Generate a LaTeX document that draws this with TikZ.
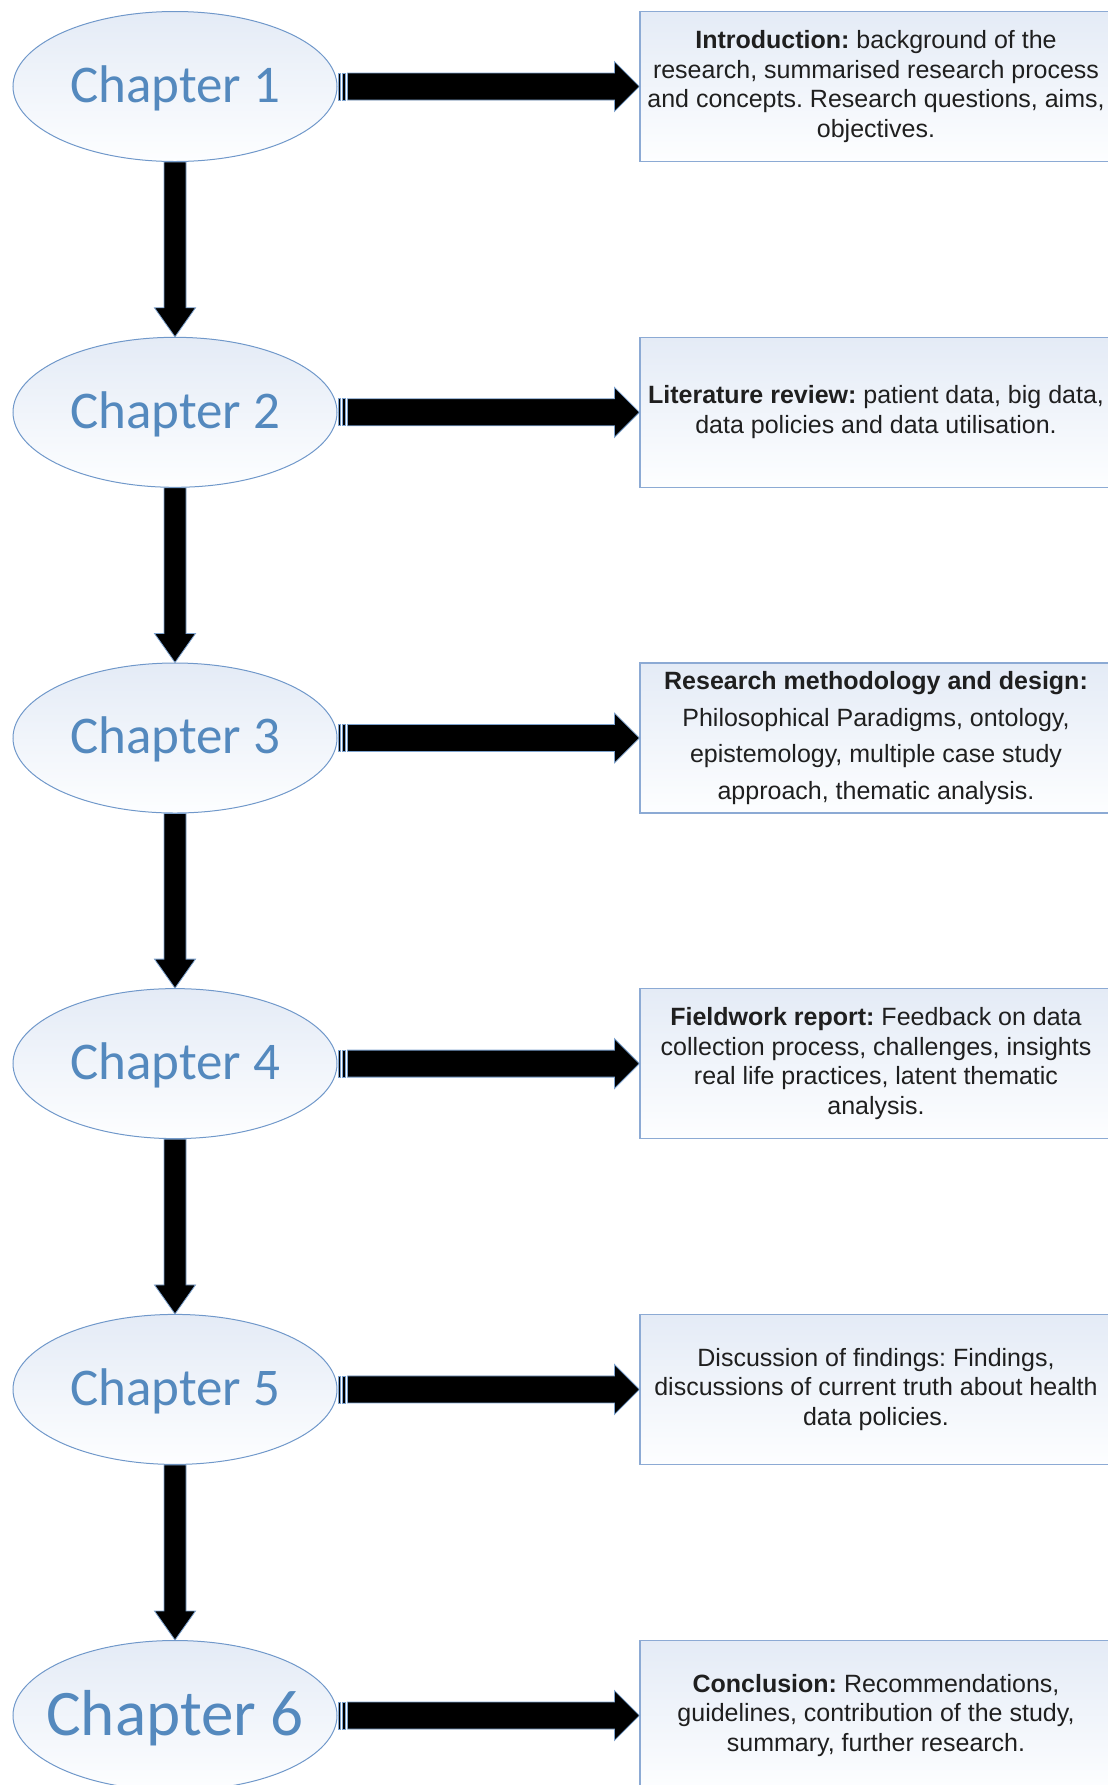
\documentclass[tikz,border=0pt]{standalone}
\usepackage{fontspec}
\setmainfont{Liberation Sans}
\newfontfamily\chapfont{Carlito}
\usetikzlibrary{shapes.geometric,calc}
\frenchspacing

\definecolor{chaptext}{RGB}{84,137,190}
\definecolor{ellborder}{RGB}{112,152,202}
\definecolor{boxborder}{RGB}{140,170,212}
\definecolor{paletop}{RGB}{228,235,246}
\definecolor{palebot}{RGB}{253,254,255}
\definecolor{arrowedge}{RGB}{125,162,206}

\tikzset{
  chap/.style={ellipse, draw=ellborder, line width=0.5pt,
    top color=paletop, bottom color=palebot,
    minimum width=162pt, minimum height=75pt, inner sep=0pt,
    text=chaptext, font=\chapfont\fontsize{26.5}{30}\selectfont},
  infobox/.style={rectangle, draw=boxborder, line width=0.6pt,
    top color=paletop, bottom color=palebot,
    minimum width=236pt, minimum height=75pt, inner sep=0pt,
    align=center, text=black!88, font=\fontsize{12.5}{14.8}\selectfont},
  blockarrow/.style={fill=black, draw=arrowedge, line width=0.4pt},
}

% chapter title in a box of no size, its baseline set just below the centre,
% so the ellipse keeps its size and the capitals sit centred
\newcommand{\chaptitle}[1]{\raisebox{-0.3em}[0pt][0pt]{\makebox[0pt]{#1}}}

% striped block arrow from a chapter ellipse to its summary box
\newcommand{\sidearrow}[2]{%
  \path[blockarrow] ($(#1.east)+(10,-13.5)$) -- ($(#2.west)+(-25,-13.5)$)
    -- ($(#2.west)+(-25,-25)$) -- (#2.west) -- ($(#2.west)+(-25,25)$)
    -- ($(#2.west)+(-25,13.5)$) -- ($(#1.east)+(10,13.5)$) -- cycle;
  \path[blockarrow] ($(#1.east)+(1,-13.5)$) rectangle ($(#1.east)+(3,13.5)$);
  \path[blockarrow] ($(#1.east)+(5,-13.5)$) rectangle ($(#1.east)+(8,13.5)$);}

% block arrow from one chapter ellipse down to the next
\newcommand{\chapdown}[2]{%
  \path[blockarrow] ($(#1.south)+(-11,0)$) -- ($(#2.north)+(-11,-29)$)
    -- ($(#2.north)+(-20.5,-29)$) -- (#2.north) -- ($(#2.north)+(20.5,-29)$)
    -- ($(#2.north)+(11,-29)$) -- ($(#1.south)+(11,0)$) -- cycle;}

\begin{document}
\begin{tikzpicture}[x=0.5pt,y=-0.5pt]
\useasboundingbox (0,0) rectangle (1108,1785);
\clip (0,0) rectangle (1108,1785);

% chapters
\node[chap] (c1) at (175,86.5)   {\chaptitle{Chapter 1}};
\node[chap] (c2) at (175,412.3)  {\chaptitle{Chapter 2}};
\node[chap] (c3) at (175,738)    {\chaptitle{Chapter 3}};
\node[chap] (c4) at (175,1063.6) {\chaptitle{Chapter 4}};
\node[chap] (c5) at (175,1389.4) {\chaptitle{Chapter 5}};
\node[chap, font=\chapfont\fontsize{32.5}{36}\selectfont] (c6) at (175,1715.5) {\chaptitle{Chapter 6}};

% chapter summaries
\node[infobox] (b1) at (876,86.5) {\textbf{Introduction:} background of the\\
  research, summarised research process\\
  and concepts. Research questions, aims,\\
  objectives.};
\node[infobox] (b2) at (876,412.3) {\textbf{Literature review:} patient data, big data,\\
  data policies and data utilisation.};
\node[infobox, font=\fontsize{12.5}{18.3}\selectfont] (b3) at (876,738)
  {\textbf{Research methodology and design:}\\
  Philosophical Paradigms, ontology,\\
  epistemology, multiple case study\\
  approach, thematic analysis.};
\node[infobox] (b4) at (876,1063.6) {\textbf{Fieldwork report:} Feedback on data\\
  collection process, challenges, insights\\
  real life practices, latent thematic\\
  analysis.};
\node[infobox] (b5) at (876,1389.4) {Discussion of findings: Findings,\\
  discussions of current truth about health\\
  data policies.};
\node[infobox] (b6) at (876,1715.5) {\textbf{Conclusion:} Recommendations,\\
  guidelines, contribution of the study,\\
  summary, further research.};

% connectors
\foreach \k in {1,...,6} {\sidearrow{c\k}{b\k}}
\foreach \k [evaluate=\k as \n using int(\k+1)] in {1,...,5} {\chapdown{c\k}{c\n}}
\end{tikzpicture}
\end{document}
